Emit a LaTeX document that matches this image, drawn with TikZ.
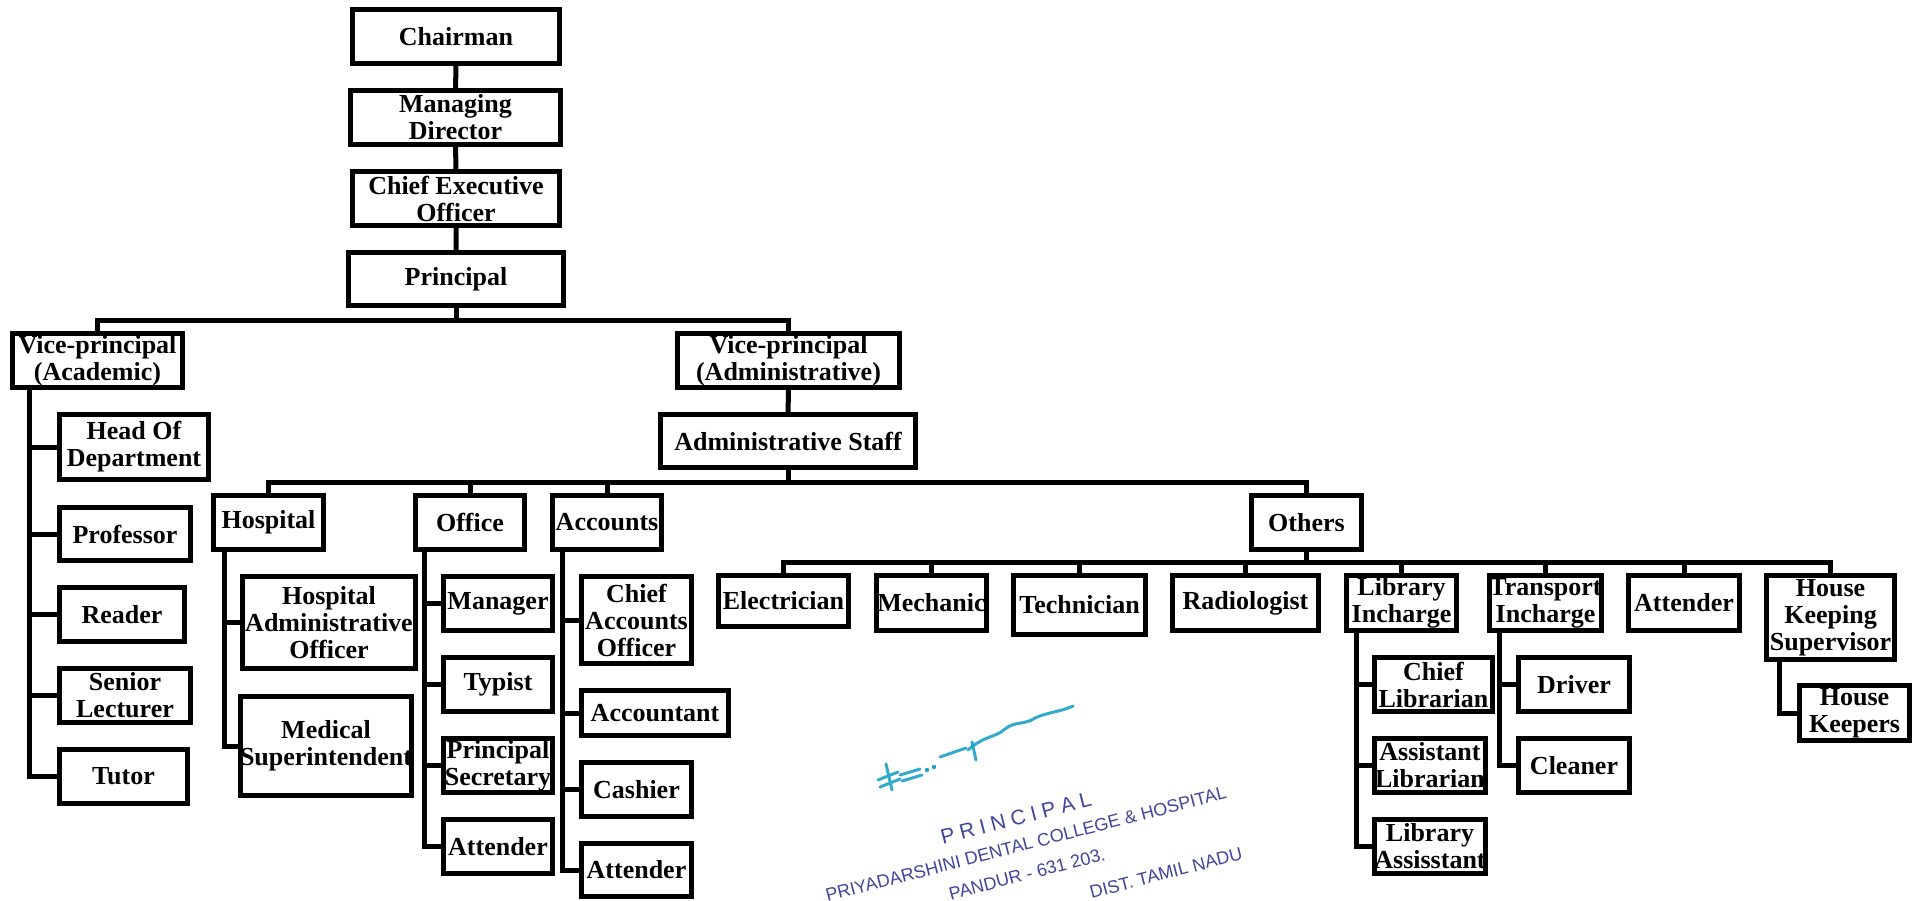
\documentclass[tikz,border=0pt]{standalone}
\usepackage{fontspec}
\setmainfont{Liberation Serif}
\newfontfamily\stampfont{Liberation Sans}
\definecolor{stampink}{HTML}{2E3192}
\definecolor{signink}{HTML}{1DA1C7}
\tikzset{
  post/.style={draw, line width=5pt, inner sep=0pt, align=center,
    font=\fontsize{26}{27}\selectfont\bfseries},
  wh/.style 2 args={minimum width=#1pt, minimum height=#2pt},
  link/.style={line width=5pt},
  stamp/.style={inner sep=0pt, text=stampink, rotate=14.5, opacity=0.9,
    font=\stampfont\fontsize{18}{18}\selectfont},
  sign/.style={signink, line width=3pt, line cap=round, opacity=0.9},
}
\newcommand\sealgap{\kern5.5pt}
\begin{document}
\begin{tikzpicture}[x=1pt,y=-1pt]
\fill[white] (0,0) rectangle (1921,900);
% top line
\node[post, wh={207}{54}] (chair) at (456,36.5) {Chairman};
\node[post, wh={210}{54}] (md) at (455.5,117.5) {Managing\\Director};
\node[post, wh={207}{54}] (ceo) at (456,198.5) {Chief Executive\\Officer};
\node[post, wh={215}{53}] (prin) at (456,279) {Principal};
\draw[link] (chair) -- (md) -- (ceo) -- (prin);
% vice-principals
\node[post, wh={170}{54}] (vpa) at (97.5,360.5) {Vice-principal\\(Academic)};
\node[post, wh={222}{54}] (vpb) at (788.5,360.5) {Vice-principal\\(Administrative)};
\coordinate (busvp) at (456,320);
\draw[link] (prin.south) -- (busvp);
\draw[link] (vpa.north) |- (busvp) -| (vpb.north);
% academic side
\node[post, wh={149}{65}] (hod) at (134,447) {Head Of\\Department};
\node[post, wh={131}{53}] (prof) at (125,534) {Professor};
\node[post, wh={125}{54}] (reader) at (122,614.5) {Reader};
\node[post, wh={131}{54}] (senior) at (125,695.5) {Senior\\Lecturer};
\node[post, wh={128}{54}] (tutor) at (123.5,776.5) {Tutor};
\coordinate (vatrunk) at ([xshift=19pt]vpa.south west);
\draw[link] (vatrunk) |- (tutor.west);
\foreach \n in {hod,prof,reader,senior}
  \draw[link] (vatrunk |- \n.west) -- (\n.west);
% administrative side
\node[post, wh={255}{53}] (staff) at (788,441) {Administrative Staff};
\draw[link] (vpb) -- (staff);
\node[post, wh={110}{54}] (hosp) at (268.5,522.5) {Hospital};
\node[post, wh={109}{54}] (office) at (470,522.5) {Office};
\node[post, wh={109}{54}] (accts) at (607,522.5) {Accounts};
\node[post, wh={110}{54}] (others) at (1306.5,522.5) {Others};
\coordinate (busstaff) at (788,482);
\draw[link] (staff.south) -- (busstaff);
\draw[link] (hosp.north) |- (busstaff) -| (others.north);
\foreach \n in {office,accts}
  \draw[link] (\n.north) -- (\n.north |- busstaff);
% hospital
\node[post, wh={173}{92}] (hao) at (329,622.5) {Hospital\\Administrative\\Officer};
\node[post, wh={167}{99}] (medsup) at (326,746) {Medical\\Superintendent};
\coordinate (hotrunk) at ([xshift=13pt]hosp.south west);
\draw[link] (hotrunk) |- (medsup.west);
\draw[link] (hotrunk |- hao.west) -- (hao.west);
% office
\node[post, wh={109}{54}] (manager) at (498,603.5) {Manager};
\node[post, wh={109}{54}] (typist) at (498,684.5) {Typist};
\node[post, wh={109}{54}] (psec) at (498,765.5) {Principal\\Secretary};
\node[post, wh={109}{54}] (oattend) at (498,846.5) {Attender};
\coordinate (oftrunk) at ([xshift=11pt]office.south west);
\draw[link] (oftrunk) |- (oattend.west);
\foreach \n in {manager,typist,psec}
  \draw[link] (oftrunk |- \n.west) -- (\n.west);
% accounts
\node[post, wh={110}{87}] (cao) at (636.5,620) {Chief\\Accounts\\Officer};
\node[post, wh={147}{45}] (acctnt) at (655,713) {Accountant};
\node[post, wh={110}{54}] (cashier) at (636.5,789.5) {Cashier};
\node[post, wh={110}{53}] (aattend) at (636.5,870) {Attender};
\coordinate (actrunk) at ([xshift=12pt]accts.south west);
\draw[link] (actrunk) |- (aattend.west);
\foreach \n in {cao,acctnt,cashier}
  \draw[link] (actrunk |- \n.west) -- (\n.west);
% others
\node[post, wh={130}{51}] (elec) at (783.5,601) {Electrician};
\node[post, wh={110}{55}] (mech) at (931.5,603) {Mechanic};
\node[post, wh={132}{59}] (tech) at (1079.5,605) {Technician};
\node[post, wh={146}{55}] (radio) at (1245.5,603) {Radiologist};
\node[post, wh={110}{55}] (libinc) at (1401.5,603) {Library\\Incharge};
\node[post, wh={110}{55}] (trinc) at (1545.5,603) {Transport\\Incharge};
\node[post, wh={111}{55}] (xattend) at (1684,603) {Attender};
\node[post, wh={128}{84}] (hks) at (1830.5,617.5) {House\\Keeping\\Supervisor};
\coordinate (busoth) at (1306.5,562);
\draw[link] (others.south) -- (busoth);
\draw[link] (elec.north) |- (busoth) -| (hks.north);
\foreach \n in {mech,tech,radio,libinc,trinc,xattend}
  \draw[link] (\n.north) -- (\n.north |- busoth);
% library
\node[post, wh={118}{54}] (chlib) at (1433.5,684.5) {Chief\\Librarian};
\node[post, wh={111}{54}] (asslib) at (1430,765.5) {Assistant\\Librarian};
\node[post, wh={111}{54}] (libass) at (1430,846.5) {Library\\Assisstant};
\coordinate (litrunk) at ([xshift=12pt]libinc.south west);
\draw[link] (litrunk) |- (libass.west);
\foreach \n in {chlib,asslib}
  \draw[link] (litrunk |- \n.west) -- (\n.west);
% transport
\node[post, wh={111}{54}] (driver) at (1574,684.5) {Driver};
\node[post, wh={111}{54}] (cleaner) at (1574,765.5) {Cleaner};
\coordinate (trtrunk) at ([xshift=13pt]trinc.south west);
\draw[link] (trtrunk) |- (cleaner.west);
\draw[link] (trtrunk |- driver.west) -- (driver.west);
% house keeping
\node[post, wh={110}{55}] (hkeep) at (1854.5,713) {House\\Keepers};
\coordinate (hktrunk) at ([xshift=15pt]hks.south west);
\draw[link] (hktrunk) |- (hkeep.west);
% seal and signature
\begin{scope}
\clip (0,0) rectangle (1921,900);
\node[stamp, font=\stampfont\fontsize{21}{21}\selectfont] (sealA) at (1016,818)
  {P\sealgap R\sealgap I\sealgap N\sealgap C\sealgap I\sealgap P\sealgap A\sealgap L};
\node[stamp] (sealB) at (1026,844) {PRIYADARSHINI DENTAL COLLEGE \& HOSPITAL};
\node[stamp] (sealC) at (1027,874) {PANDUR - 631 203.};
\node[stamp] (sealD) at (1166,873) {DIST. TAMIL NADU};
\draw[sign] (878,780) -- (898,772) (880,787) -- (900,779) (886,764) -- (892,790);
\draw[sign] (900,775) -- (920,769) (902,781) -- (922,775);
\fill[signink] (927,770) circle (2.2) (934,767) circle (2.2);
\draw[sign] (940,757) -- (966,748) (972,742) -- (976,760);
\draw[sign] (968,750) .. controls (985,735) and (995,738) .. (1005,729) .. controls (1015,721) and (1025,725) .. (1035,718) .. controls (1048,712) and (1060,712) .. (1073,706);
\end{scope}
\end{tikzpicture}
\end{document}
